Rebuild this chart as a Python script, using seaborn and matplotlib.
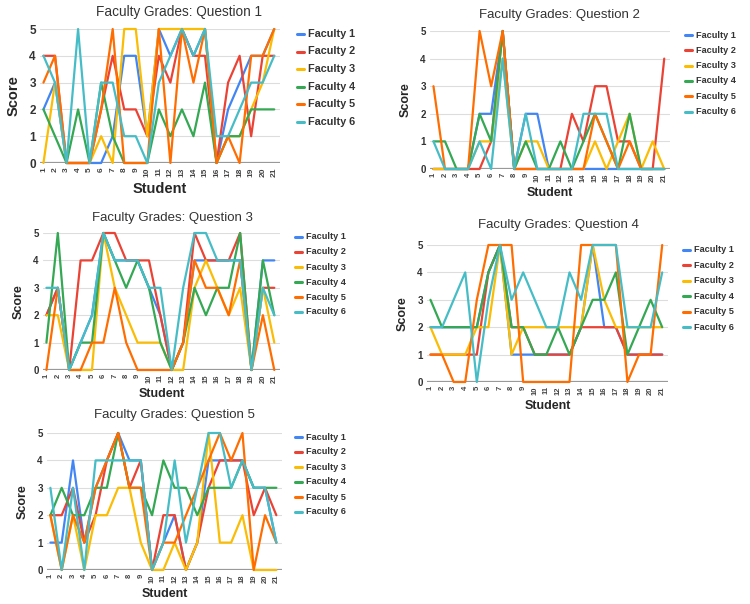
import pandas as pd
import matplotlib.pyplot as plt
import seaborn as sns

students = list(range(1, 22))
faculty = ['Faculty 1', 'Faculty 2', 'Faculty 3', 'Faculty 4', 'Faculty 5', 'Faculty 6']
colors = ['#4285F4', '#EA4335', '#FBBC04', '#34A853', '#FF6D01', '#46BDC6']

# scores per faculty, one list per faculty, students 1..21
q1_scores = [
    [2, 3, 0, 0, 0, 0, 1, 4, 4, 1, 5, 4, 5, 4, 5, 0, 2, 3, 4, 4, 5],
    [4, 4, 0, 0, 0, 2, 4, 2, 2, 1, 4, 3, 5, 4, 4, 0, 3, 4, 1, 4, 4],
    [0, 3, 0, 0, 0, 1, 0, 5, 5, 1, 5, 5, 5, 5, 5, 0, 1, 1, 2, 3, 5],
    [2, 1, 0, 2, 0, 3, 1, 0, 0, 0, 2, 1, 2, 1, 3, 0, 1, 1, 2, 2, 2],
    [3, 4, 0, 0, 0, 2, 5, 0, 0, 0, 5, 0, 5, 3, 5, 0, 1, 0, 4, 4, 5],
    [4, 3, 0, 5, 0, 3, 3, 1, 1, 0, 3, 4, 5, 4, 5, 1, 1, 2, 3, 3, 4],
]
q2_scores = [
    [0, 0, 0, 0, 2, 2, 5, 0, 2, 2, 0, 0, 0, 0, 0, 0, 0, 0, 0, 0, 0],
    [0, 0, 0, 0, 0, 1, 5, 0, 0, 0, 0, 0, 2, 1, 3, 3, 1, 1, 0, 0, 4],
    [0, 0, 0, 0, 1, 1, 4, 0, 1, 1, 0, 0, 0, 0, 1, 0, 1, 2, 0, 1, 0],
    [1, 1, 0, 0, 2, 1, 5, 0, 1, 0, 0, 1, 0, 1, 2, 1, 0, 2, 0, 0, 0],
    [3, 0, 0, 0, 5, 3, 5, 0, 0, 0, 0, 0, 0, 0, 2, 1, 0, 1, 0, 0, 0],
    [1, 0, 0, 0, 1, 0, 4, 0, 2, 0, 0, 0, 0, 2, 2, 2, 0, 0, 0, 0, 0],
]
q3_scores = [
    [2, 3, 0, 1, 2, 5, 4, 4, 4, 3, 2, 0, 1, 4, 4, 4, 4, 4, 0, 4, 4],
    [2, 3, 0, 4, 4, 5, 5, 4, 4, 4, 2, 0, 1, 5, 4, 4, 4, 5, 0, 3, 3],
    [2, 2, 0, 0, 0, 5, 3, 2, 1, 1, 1, 0, 0, 3, 4, 3, 2, 3, 0, 3, 1],
    [1, 5, 0, 1, 1, 5, 4, 3, 4, 3, 1, 0, 1, 3, 2, 3, 3, 5, 0, 4, 2],
    [0, 3, 0, 0, 1, 1, 3, 1, 0, 0, 0, 0, 1, 4, 3, 3, 2, 4, 0, 2, 0],
    [3, 3, 0, 1, 2, 5, 4, 4, 4, 3, 3, 0, 3, 5, 5, 4, 4, 4, 0, 3, 2],
]
q4_scores = [
    [2, 2, 2, 2, 2, 4, 5, 1, 1, 1, 1, 1, 1, 2, 5, 2, 2, 1, 1, 1, 1],
    [1, 1, 1, 1, 1, 4, 5, 2, 2, 1, 1, 1, 1, 2, 2, 2, 2, 1, 1, 1, 1],
    [2, 1, 1, 1, 2, 2, 5, 1, 2, 2, 2, 2, 2, 2, 5, 3, 2, 2, 2, 2, 2],
    [3, 2, 2, 2, 2, 4, 5, 2, 2, 1, 1, 2, 1, 2, 3, 3, 4, 1, 2, 3, 2],
    [1, 1, 0, 0, 3, 5, 5, 5, 0, 0, 0, 0, 0, 5, 5, 5, 5, 0, 1, 1, 5],
    [2, 2, 3, 4, 0, 3, 5, 3, 4, 3, 2, 2, 4, 3, 5, 5, 5, 2, 2, 2, 4],
]
q5_scores = [
    [1, 1, 4, 1, 3, 4, 5, 4, 4, 0, 1, 2, 0, 1, 4, 4, 4, 4, 3, 3, 1],
    [2, 2, 3, 1, 2, 4, 5, 3, 4, 0, 2, 2, 0, 1, 3, 4, 4, 4, 2, 3, 2],
    [2, 0, 2, 0, 2, 2, 3, 3, 1, 0, 0, 1, 0, 1, 5, 1, 1, 2, 0, 0, 0],
    [2, 3, 2, 2, 3, 3, 5, 3, 3, 2, 4, 3, 3, 2, 3, 3, 3, 4, 3, 3, 3],
    [2, 0, 2, 1, 3, 4, 5, 3, 3, 0, 1, 1, 2, 3, 4, 5, 4, 5, 0, 2, 1],
    [3, 0, 3, 0, 4, 4, 4, 4, 4, 0, 1, 4, 1, 3, 5, 5, 3, 4, 3, 3, 1],
]

W, H = 750, 604
fig = plt.figure(figsize=(W / 100, H / 100), dpi=100)
sns.set_style('white')
plt.rcParams['font.family'] = ['Liberation Sans', 'DejaVu Sans']


def tidy(scores):
    rows = []
    for name, vals in zip(faculty, scores):
        for s, v in zip(students, vals):
            rows.append((s, v, name))
    return pd.DataFrame(rows, columns=['Student', 'Score', 'Faculty'])


def panel(scores, title, box, title_x, title_y, leg_x, leg_y, leg_gap, big=False):
    l, t, r, b = box
    ax = fig.add_axes([l / W, 1 - b / H, (r - l) / W, (b - t) / H])
    df = tidy(scores)
    sns.lineplot(data=df, x='Student', y='Score', hue='Faculty', hue_order=faculty,
                 palette=colors, linewidth=1.6, ax=ax, legend=False, clip_on=False)
    ax.set_xlim(0.7, 21.5)
    ax.set_ylim(0, 5)
    ax.set_xticks(students)
    ax.set_xticklabels([str(s) for s in students], rotation=90,
                       fontsize=6 if big else 5.5, fontweight='bold', color='#444444')
    ax.set_yticks(range(6))
    ax.set_yticklabels([str(v) for v in range(6)],
                       fontsize=8.5 if big else 7, fontweight='bold', color='#333333')
    ax.tick_params(length=0, pad=3)
    for v in range(1, 6):
        ax.axhline(v, color='#dddddd', linewidth=0.8, zorder=0)
    ax.axhline(0, color='#999999', linewidth=1.6, zorder=0)
    sns.despine(ax=ax, left=True, bottom=True)
    ax.set_xlabel('Student', fontsize=10.5 if big else 9, fontweight='bold', labelpad=4)
    ax.set_ylabel('Score', fontsize=10.5 if big else 9, fontweight='bold', labelpad=6)
    fig.text(title_x / W, 1 - title_y / H, title, ha='center', va='center',
             fontsize=9.8 if big else 9.5, color='#333333')
    # legend in the Google Sheets style
    for i, (name, c) in enumerate(zip(faculty, colors)):
        y = 1 - (leg_y + i * leg_gap) / H
        fig.lines.append(plt.Line2D([leg_x / W, (leg_x + 7) / W], [y, y], color=c,
                                    linewidth=2.2, transform=fig.transFigure))
        fig.text((leg_x + 11) / W, y, name, va='center', fontweight='bold',
                 fontsize=7.8 if big else 6.6, color='#333333')
    return ax


panel(q1_scores, 'Faculty Grades: Question 1', (40, 29, 280, 163), 179, 12, 297, 34, 17.5, big=True)
panel(q2_scores, 'Faculty Grades: Question 2', (430, 31, 670, 169), 559, 15, 685, 35, 15.3)
panel(q3_scores, 'Faculty Grades: Question 3', (43, 233, 280, 370), 172, 218, 295, 237, 15)
panel(q4_scores, 'Faculty Grades: Question 4', (427, 245, 668, 382), 558, 225, 683, 250, 15.4)
panel(q5_scores, 'Faculty Grades: Question 5', (47, 433, 282, 570), 174, 415, 295, 437, 15)

plt.savefig('out.png', dpi=100)
